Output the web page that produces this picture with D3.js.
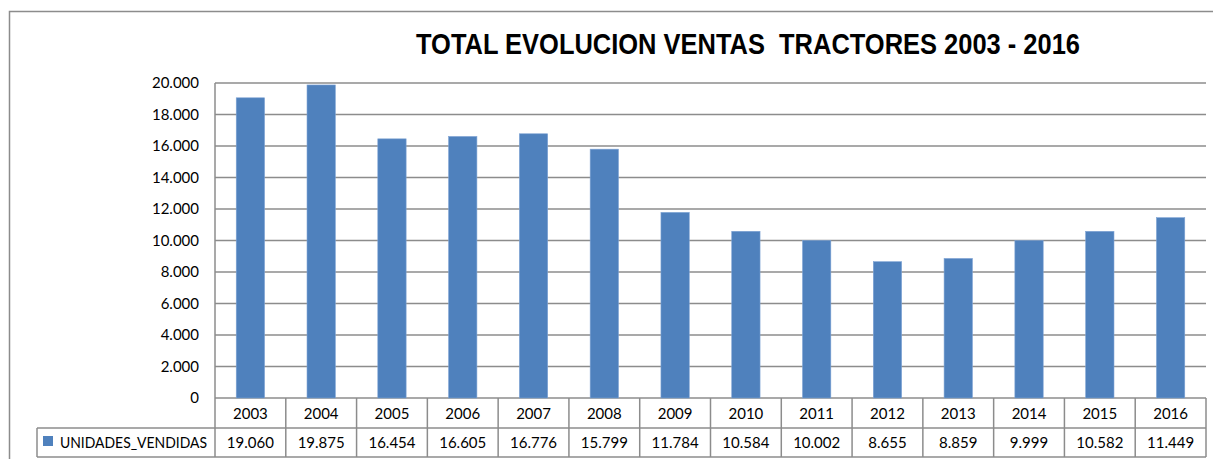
<!DOCTYPE html>
<html><head><meta charset="utf-8">
<script src="https://cdn.jsdelivr.net/npm/d3@7"></script>
<style>body{margin:0;background:#fff;} svg{display:block;}</style>
</head><body>
<svg id="c" width="1213" height="459"></svg>
<script>
const years = ["2003","2004","2005","2006","2007","2008","2009","2010","2011","2012","2013","2014","2015","2016"];
const unidades = [19060,19875,16454,16605,16776,15799,11784,10584,10002,8655,8859,9999,10582,11449];
const yTicks = [0,2000,4000,6000,8000,10000,12000,14000,16000,18000,20000];
const seriesName = "UNIDADES_VENDIDAS";
const title = "TOTAL EVOLUCION VENTAS  TRACTORES 2003 - 2016";

const svg = d3.select("#c");
const L = 215, R = 1206, T = 83, B = 398;
const rowH1 = 30, rowH2 = 29, legendLeft = 37;
const fmt = v => v === 0 ? "0" : d3.format(",")(v).replace(/,/g, ".");

// outer frame
svg.append("path").attr("d", `M9.5,470 V11.5 H1220`).attr("fill","none").attr("stroke","#8c8c8c").attr("stroke-width",1.5);

svg.append("text").attr("x", 416).attr("y", 54)
  .attr("font-family","'Liberation Sans',Arial,sans-serif")
  .attr("font-weight","bold").attr("font-size",30).attr("fill","#000")
  .attr("textLength", 664).attr("lengthAdjust","spacingAndGlyphs")
  .style("white-space","pre").attr("xml:space","preserve").text(title);

const x = d3.scaleBand().domain(years).range([L, R]).paddingInner(0.6).paddingOuter(0.3);
const xc = d3.scaleBand().domain(years).range([L, R]);
const y = d3.scaleLinear().domain([0, 20000]).range([B, T]);

// gridlines
svg.append("g").selectAll("line").data(yTicks).join("line")
  .attr("x1", L).attr("x2", R).attr("y1", d => y(d)).attr("y2", d => y(d))
  .attr("stroke","#8c8c8c").attr("stroke-width",1.5);
svg.append("line").attr("x1",L).attr("x2",L).attr("y1",T).attr("y2",B).attr("stroke","#8c8c8c").attr("stroke-width",1.5);

const tf = "Lato,'Open Sans',sans-serif";
// y labels
const yAxis = d3.axisLeft(y).tickValues(yTicks).tickFormat(fmt).tickSize(0).tickPadding(16);
const ga = svg.append("g").attr("transform",`translate(${L},0)`).call(yAxis);
ga.select(".domain").remove();
ga.selectAll("text").attr("font-family",tf).attr("font-size",15).attr("fill","#000");

// bars
svg.append("g").selectAll("rect").data(unidades).join("rect")
  .attr("x", (d,i) => x(years[i])).attr("width", x.bandwidth())
  .attr("y", d => y(d)).attr("height", d => B - y(d))
  .attr("fill","#4F81BD").attr("stroke","#7ea3d4").attr("stroke-width",0.6);

// data table
const tg = svg.append("g");
const lc = "#8c8c8c";
tg.append("line").attr("x1",L).attr("x2",R).attr("y1",B+rowH1).attr("y2",B+rowH1).attr("stroke",lc).attr("stroke-width",1.5);
tg.append("line").attr("x1",legendLeft).attr("x2",R).attr("y1",B+rowH1+rowH2).attr("y2",B+rowH1+rowH2).attr("stroke",lc).attr("stroke-width",1.5);
tg.append("line").attr("x1",legendLeft).attr("x2",L).attr("y1",B+rowH1).attr("y2",B+rowH1).attr("stroke",lc).attr("stroke-width",1.5);
tg.append("line").attr("x1",legendLeft).attr("x2",legendLeft).attr("y1",B+rowH1).attr("y2",B+rowH1+rowH2).attr("stroke",lc).attr("stroke-width",1.5);
const vx = years.map(d => xc(d)).concat([R]);
tg.selectAll("line.v").data(vx).join("line").attr("class","v")
  .attr("x1", d => d).attr("x2", d => d).attr("y1", B).attr("y2", B+rowH1+rowH2)
  .attr("stroke",lc).attr("stroke-width",1.5);
tg.selectAll("text.yr").data(years).join("text").attr("class","yr")
  .attr("x", d => xc(d) + xc.bandwidth()/2).attr("y", B+21).attr("text-anchor","middle")
  .attr("font-family",tf).attr("font-size",15).attr("fill","#000").text(d => d);
tg.selectAll("text.val").data(unidades).join("text").attr("class","val")
  .attr("x", (d,i) => xc(years[i]) + xc.bandwidth()/2).attr("y", B+rowH1+20).attr("text-anchor","middle")
  .attr("font-family",tf).attr("font-size",15).attr("fill","#000").text(d => fmt(d));
tg.append("rect").attr("x",43).attr("y",B+rowH1+8).attr("width",10).attr("height",10).attr("fill","#4F81BD");
tg.append("text").attr("x",60).attr("y",B+rowH1+20).attr("font-family",tf).attr("font-size",15).attr("fill","#000")
  .attr("textLength",147).attr("lengthAdjust","spacingAndGlyphs").text(seriesName);
</script>
</body></html>
